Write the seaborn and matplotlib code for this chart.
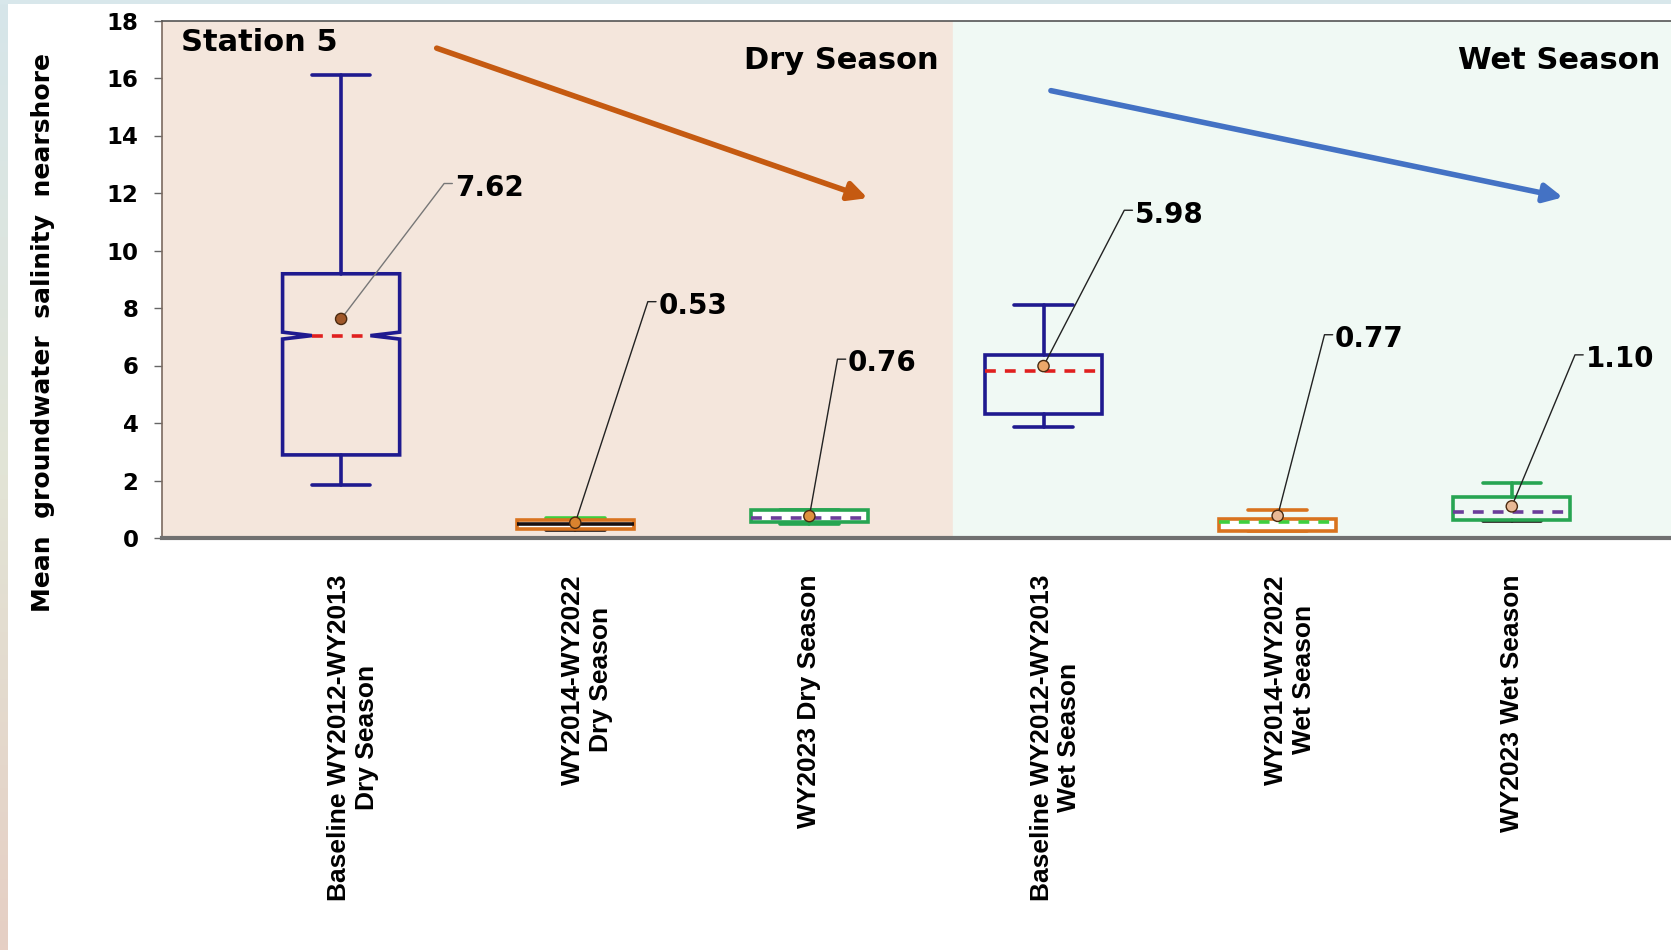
import numpy as np
import pandas as pd
import matplotlib
matplotlib.use("Agg")
import matplotlib.pyplot as plt
import matplotlib.transforms as mtransforms
from matplotlib.colors import LinearSegmentedColormap
import seaborn as sns

# values
categories = ["Baseline WY2012-WY2013\nDry Season", "WY2014-WY2022\nDry Season", "WY2023 Dry Season",
              "Baseline WY2012-WY2013\nWet Season", "WY2014-WY2022\nWet Season", "WY2023 Wet Season"]
whislo = [1.85, 0.27, 0.49, 3.85, 0.23, 0.60]
q1 = [2.89, 0.33, 0.57, 4.33, 0.26, 0.61]
med = [7.04, 0.48, 0.69, 5.81, 0.54, 0.90]
q3 = [9.19, 0.62, 0.96, 6.37, 0.66, 1.44]
whishi = [16.1, 0.70, 0.96, 8.11, 0.98, 1.93]
means = [7.62, 0.53, 0.76, 5.98, 0.77, 1.10]
notch_ci = [6.92, 7.16]  # first box only

box_colors = ["#1f1a8f", "#d9731f", "#27a552", "#1f1a8f", "#d9731f", "#27a552"]
median_colors = ["#e0201f", "#1a1010", "#6b3d9a", "#e0201f", "#3fcf3f", "#6b3d9a"]
median_styles = ["dash", "solid", "dash", "dash", "dash", "dash"]
low_cap_colors = ["#1f1a8f", "#1a1010", "#27a552", "#1f1a8f", "#d9731f", "#1a1010"]
high_cap_colors = ["#1f1a8f", "#3fcf3f", "#27a552", "#1f1a8f", "#d9731f", "#27a552"]
box_fill = ["none", "white", "white", "none", "white", "none"]
mean_colors = ["#a0582a", "#d9822e", "#e0913f", "#eda86a", "#e9b995", "#e9b995"]

label_dx = [0.44, 0.31, 0.12, 0.345, 0.20, 0.27]
label_y = [12.33, 8.22, 6.22, 11.40, 7.07, 6.37]

sns.set_style("white")
plt.rcParams['font.family'] = ['DejaVu Sans']
plt.rcParams['text.color'] = 'black'
plt.rcParams['xtick.color'] = 'black'
plt.rcParams['ytick.color'] = 'black'

fig = plt.figure(figsize=(16.71, 9.5), dpi=100)
fig.patch.set_facecolor("white")

# thin gradient frame on the left and top edges
grad = np.linspace(0, 1, 200).reshape(-1, 1)
edge_cmap = LinearSegmentedColormap.from_list("edge", ["#d6e6ea", "#e2e4d6", "#e6cfc4"])
lax = fig.add_axes([0, 0, 8 / 1671, 1])
lax.imshow(grad, aspect="auto", cmap=edge_cmap)
lax.axis("off")
tax = fig.add_axes([0, 1 - 4 / 950, 1, 4 / 950])
tax.set_facecolor("#d8e7eb")
tax.set_xticks([]); tax.set_yticks([])
for s in tax.spines.values():
    s.set_visible(False)

ax = fig.add_axes([162 / 1671, 1 - 538 / 950, 1 - 162 / 1671, (538 - 20.5) / 950])
positions = np.arange(len(categories))
xmin, xmax, split = -0.765, 5.68, 2.615
ax.axvspan(xmin, split, color="#f4e6dc", zorder=0)
ax.axvspan(split, xmax, color="#f0f9f4", zorder=0)

stats = []
for i in range(len(categories)):
    d = dict(whislo=whislo[i], q1=q1[i], med=med[i], q3=q3[i], whishi=whishi[i],
             mean=means[i], label=categories[i])
    stats.append(d)
stats[0]["cilo"], stats[0]["cihi"] = notch_ci

parts = []
parts.append(ax.bxp(stats[:1], positions=positions[:1], widths=0.5, shownotches=True,
                    patch_artist=True, showfliers=False, showmeans=False))
parts.append(ax.bxp(stats[1:], positions=positions[1:], widths=0.5, shownotches=False,
                    patch_artist=True, showfliers=False, showmeans=False))

boxes = parts[0]["boxes"] + parts[1]["boxes"]
medians = parts[0]["medians"] + parts[1]["medians"]
whiskers = parts[0]["whiskers"] + parts[1]["whiskers"]
caps = parts[0]["caps"] + parts[1]["caps"]

for i in range(len(categories)):
    b = boxes[i]
    b.set_edgecolor(box_colors[i]); b.set_facecolor(box_fill[i]); b.set_linewidth(2.6)
    b.set_zorder(3)
    m = medians[i]
    m.set_color(median_colors[i]); m.set_linewidth(2.6); m.set_zorder(4)
    if median_styles[i] == "dash":
        m.set_linestyle((0, (3, 2.5)))
    for w in whiskers[2 * i:2 * i + 2]:
        w.set_color(box_colors[i]); w.set_linewidth(2.6)
    caps[2 * i].set_color(low_cap_colors[i]); caps[2 * i].set_linewidth(2.6)
    caps[2 * i + 1].set_color(high_cap_colors[i]); caps[2 * i + 1].set_linewidth(2.6)

# mean points
df = pd.DataFrame({"pos": positions, "mean": means, "cat": categories})
sns.scatterplot(data=df, x="pos", y="mean", hue="cat", palette=mean_colors, s=65,
                edgecolor="#4a2a10", linewidth=1, legend=False, zorder=6, ax=ax)

# leader lines + value labels
for i in range(len(categories)):
    x0 = positions[i] + label_dx[i]
    lc = "#777777" if i == 0 else "#222222"
    ax.plot([positions[i], x0, x0 + 0.035], [means[i], label_y[i], label_y[i]],
            color=lc, lw=1, zorder=5)
    ax.text(x0 + 0.045, label_y[i] - 0.15, f"{means[i]:.2f}", fontsize=20,
            fontweight="bold", va="center", ha="left", color="black", zorder=7)

# trend arrows
ax.annotate("", xy=(2.26, 11.79), xytext=(0.397, 17.07),
            arrowprops=dict(arrowstyle="-|>", color="#c55a11", lw=4, mutation_scale=28))
ax.annotate("", xy=(5.23, 11.83), xytext=(3.02, 15.58),
            arrowprops=dict(arrowstyle="-|>", color="#4472c4", lw=4, mutation_scale=28))

ax.text(-0.682, 17.22, "Station 5", fontsize=22, fontweight="bold", va="center", ha="left")
ax.text(2.551, 16.6, "Dry Season", fontsize=22, fontweight="bold", va="center", ha="right")
ax.text(5.635, 16.6, "Wet Season", fontsize=22, fontweight="bold", va="center", ha="right")

ax.set_xlim(xmin, xmax)
ax.set_ylim(0, 18)
ax.set_yticks(np.arange(0, 19, 2))
ax.set_yticklabels([str(v) for v in range(0, 19, 2)], fontsize=16.5, fontweight="bold")
ax.tick_params(axis="y", length=6, width=1, color="#666666", labelcolor="black", pad=11, left=True)
ax.set_xticks(positions)
ax.set_xticklabels(categories, rotation=90, fontsize=19, fontweight="bold",
                   family="Liberation Sans", va="top", ha="center", multialignment="center")
ax.tick_params(axis="x", length=0, pad=26, labelcolor="black")
# two-line labels sit with their first line on the tick
for lab in ax.get_xticklabels():
    if "\n" in lab.get_text():
        lab.set_transform(lab.get_transform() +
                          mtransforms.ScaledTranslation(12 / 100, 0, fig.dpi_scale_trans))
ax.set_xlabel("")
ax.set_ylabel("")

ax.spines["right"].set_visible(False)
ax.spines["top"].set_color("#555555"); ax.spines["top"].set_linewidth(1.2)
ax.spines["left"].set_color("#7a6a60"); ax.spines["left"].set_linewidth(1.2)
ax.spines["bottom"].set_color("#707070"); ax.spines["bottom"].set_linewidth(3)

fig.text(43 / 1671, 1 - 332 / 950, "Mean  groundwater  salinity  nearshore", rotation=90,
         fontsize=18, fontweight="bold", va="center", ha="center", color="black")

fig.savefig("out.png", dpi=100)
